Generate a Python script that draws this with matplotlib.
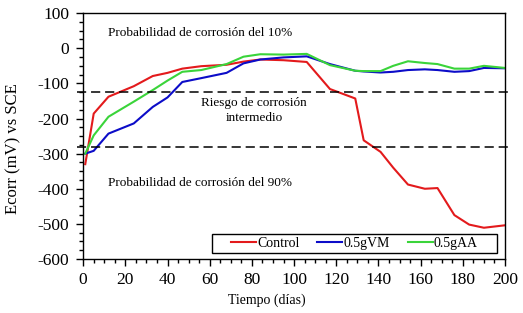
import matplotlib
matplotlib.use("Agg")
import matplotlib.pyplot as plt
from matplotlib.ticker import MultipleLocator
from matplotlib.patches import Rectangle

plt.rcParams['font.family'] = ['Liberation Serif', 'DejaVu Serif']

# days of measurement
dias = [1, 5, 12, 24, 33, 40, 47, 56, 68, 76, 84, 95, 106, 117, 129, 133,
        141, 147, 154, 162, 168, 176, 183, 190, 200]

control = [-330, -186, -138, -108, -79, -70, -58, -51, -47, -38, -32, -34, -39,
           -116, -143, -262, -295, -340, -388, -400, -398, -475, -502, -511, -504]
vm = [-300, -292, -243, -214, -167, -140, -96, -85, -70, -43, -32, -26, -23,
      -45, -64, -66, -69, -67, -62, -60, -62, -67, -65, -56, -57]
aa = [-300, -248, -195, -152, -119, -92, -67, -62, -45, -24, -17, -18, -16,
      -48, -64, -65, -65, -50, -37, -42, -45, -58, -58, -50, -56]

limites = [-125, -280]

fig = plt.figure(figsize=(5.23, 3.13), dpi=100)
ax = fig.add_axes([0.159, 0.1725, 0.8066, 0.7855])

ax.plot(dias, control, color='#e31a1c', lw=1.5, label='Control')
ax.plot(dias, vm, color='#0c0cc8', lw=1.5, label='0.5gVM')
ax.plot(dias, aa, color='#3ad43a', lw=1.5, label='0.5gAA')

for y in limites:
    ax.plot([-0.015, 1.015], [y, y], transform=ax.get_yaxis_transform(),
            color='black', lw=1.1, ls=(0, (6, 3.2)), clip_on=False)

ax.set_xlim(0, 200)
ax.set_ylim(-600, 100)
ax.xaxis.set_major_locator(MultipleLocator(20))
ax.xaxis.set_minor_locator(MultipleLocator(5))
ax.yaxis.set_major_locator(MultipleLocator(100))
ax.yaxis.set_minor_locator(MultipleLocator(25))
ax.tick_params(which='major', direction='out', length=5, width=1, labelsize=12.5)
ax.tick_params(which='minor', direction='out', length=3, width=1)
ax.tick_params(axis='y', which='major', pad=5)
ax.tick_params(axis='x', which='major', pad=4)
ax.set_yticks(range(-600, 101, 100))
ax.set_yticklabels([str(v) for v in range(-600, 101, 100)])
for s in ax.spines.values():
    s.set_linewidth(1)

ax.text(12, 43, 'Probabilidad de corrosión del 10%', fontsize=9.5, va='center')
ax.text(81, -177, 'Riesgo de corrosión\nintermedio', fontsize=9.5,
        ha='center', va='center', linespacing=1.3)
ax.text(12, -384, 'Probabilidad de corrosión del 90%', fontsize=9.5, va='center')

fig.text(267 / 523, 1 - 300 / 313, 'Tiempo (días)', fontsize=10,
         ha='center', va='center')
fig.text(13 / 523, 1 - 149 / 313, 'Ecorr (mV) vs SCE', fontsize=12,
         ha='center', va='center', rotation=90)

# legend box drawn separately (wide side padding like the original)
ax.add_patch(Rectangle((0.3057, 0.0244), 0.6753, 0.0772, transform=ax.transAxes,
                       facecolor='white', edgecolor='black', lw=1, zorder=4))
leg = ax.legend(loc='center', ncol=3, fontsize=10, frameon=False,
                handlelength=1.8, handletextpad=0.1, columnspacing=1.25,
                bbox_to_anchor=(0.6434, 0.063))
leg.set_zorder(5)

fig.savefig('out.png', dpi=100)
